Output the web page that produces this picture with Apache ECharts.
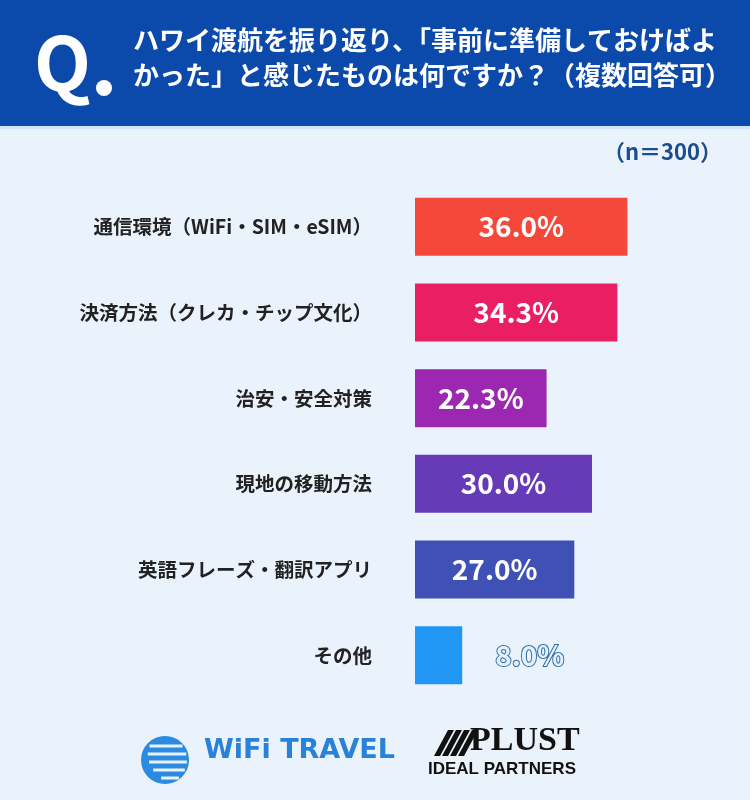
<!DOCTYPE html>
<html>
<head>
<meta charset="utf-8">
<script src="https://cdn.jsdelivr.net/npm/echarts@6/dist/echarts.min.js"></script>
<style>
  html, body { margin: 0; padding: 0; background: #eaf2fc; }
  #chart { width: 750px; height: 800px; }
</style>
</head>
<body>
<div id="chart"></div>
<script>
var categories = ['通信環境（WiFi・SIM・eSIM）', '決済方法（クレカ・チップ文化）', '治安・安全対策', '現地の移動方法', '英語フレーズ・翻訳アプリ', 'その他'];
var values = [36.0, 34.3, 22.3, 30.0, 27.0, 8.0];
var barColors = ['#f4493a', '#e91e63', '#9c27b0', '#673ab7', '#3f51b5', '#2196f3'];

var jp = '"Noto Sans CJK JP", "Noto Sans", sans-serif';
var chart = echarts.init(document.getElementById('chart'));

// decorative globe stripes for the logo
var globe = [{
    type: 'circle',
    shape: { cx: 165, cy: 760, r: 24 },
    style: { fill: '#2a8be0' }
}];
[-14, -6, 2, 10, 18].forEach(function (dy, i) {
    var half = Math.sqrt(24 * 24 - dy * dy);
    globe.push({
        type: 'line',
        shape: { x1: 165 - half + 4 + i * 2, y1: 760 + dy, x2: 165 + half - 2, y2: 760 + dy },
        style: { stroke: '#eaf2fc', lineWidth: 3 }
    });
});

// slanted stripes of the PLUST mark
var plustMark = [];
[0, 8, 16, 24].forEach(function (dx) {
    plustMark.push({
        type: 'polygon',
        shape: { points: [[434 + dx, 756], [440 + dx, 756], [454 + dx, 730], [448 + dx, 730]] },
        style: { fill: '#111' }
    });
});

chart.setOption({
    backgroundColor: '#eaf2fc',
    animation: false,
    grid: { left: 415, width: 295, top: 184, height: 514 },
    xAxis: {
        type: 'value',
        min: 0,
        max: 50,
        show: false
    },
    yAxis: {
        type: 'category',
        inverse: true,
        data: categories,
        axisLine: { show: false },
        axisTick: { show: false },
        axisLabel: {
            margin: 43,
            color: '#222',
            fontSize: 19.5,
            fontWeight: 'bold',
            fontFamily: jp
        }
    },
    series: [{
        type: 'bar',
        barWidth: 58,
        data: values.map(function (v, i) {
            var item = { value: v, itemStyle: { color: barColors[i] } };
            if (v < 15) {
                item.label = {
                    position: 'right',
                    distance: 33,
                    color: '#e4f1fd',
                    textBorderColor: '#2f6ea8',
                    textBorderWidth: 2
                };
            }
            return item;
        }),
        label: {
            show: true,
            position: 'inside',
            color: '#fff',
            fontSize: 28,
            fontWeight: 'bold',
            fontFamily: jp,
            formatter: function (p) { return p.value.toFixed(1) + '%'; }
        }
    }],
    graphic: [
        { type: 'rect', shape: { x: 0, y: 0, width: 750, height: 126 }, style: { fill: '#0b4aab' } },
        { type: 'rect', shape: { x: 0, y: 126, width: 750, height: 3 }, style: { fill: '#cfe2f7' } },
        { type: 'text', left: 34, top: 26, style: { text: 'Q', fill: '#fff', font: 'bold 74px ' + jp } },
        { type: 'circle', shape: { cx: 104, cy: 88, r: 8 }, style: { fill: '#fff' } },
        { type: 'text', left: 133, top: 27, style: { text: 'ハワイ渡航を振り返り、「事前に準備しておけばよ', fill: '#fff', font: 'bold 26px ' + jp } },
        { type: 'text', left: 133, top: 62, style: { text: 'かった」と感じたものは何ですか？（複数回答可）', fill: '#fff', font: 'bold 26px ' + jp } },
        { type: 'text', right: 28, top: 141, style: { text: '（n＝300）', fill: '#1b4c8c', font: 'bold 22px ' + jp } },
        { type: 'group', children: globe },
        { type: 'text', left: 204, top: 737, style: { text: 'WiFi TRAVEL', fill: '#2a82d8', font: '900 27px "DejaVu Sans", sans-serif' } },
        { type: 'group', children: plustMark },
        { type: 'text', left: 470, top: 724, style: { text: 'PLUST', fill: '#111', font: 'bold 34px "Liberation Serif", serif' } },
        { type: 'text', left: 428, top: 761, style: { text: 'IDEAL PARTNERS', fill: '#111', font: 'bold 17px "Liberation Sans", sans-serif' } }
    ]
});
</script>
</body>
</html>
